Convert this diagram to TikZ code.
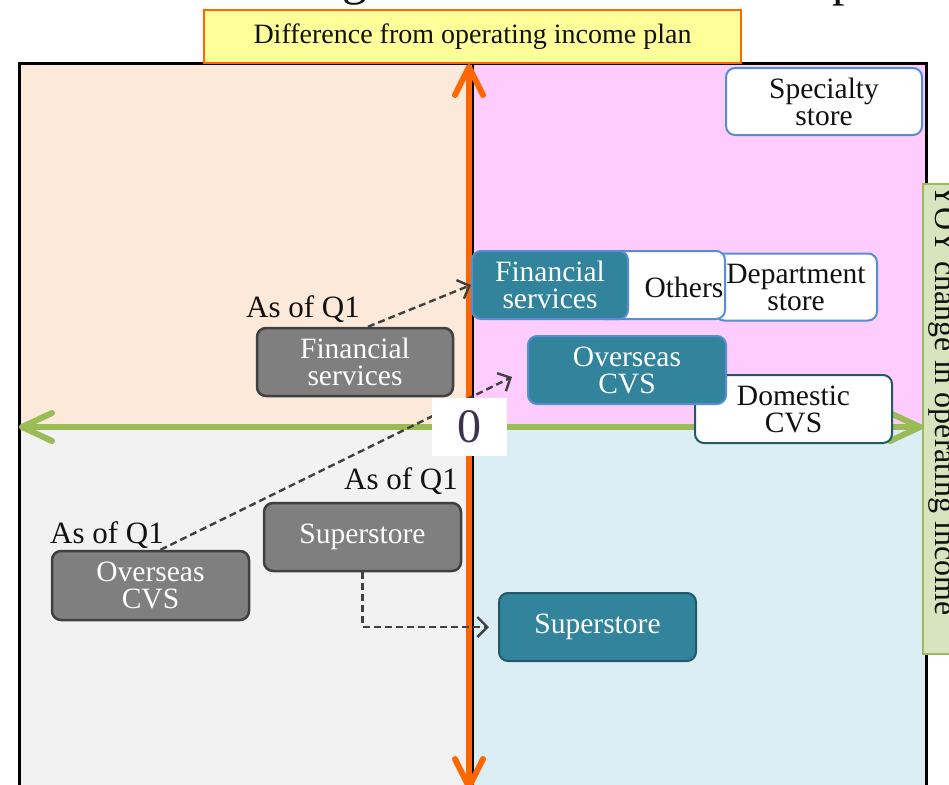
\documentclass[tikz,border=0pt]{standalone}
\usepackage{fontspec}
\setmainfont{Liberation Serif}
\usetikzlibrary{arrows.meta}
\definecolor{peachq}{HTML}{FDE9D9}
\definecolor{pinkq}{HTML}{FFCCFF}
\definecolor{grayq}{HTML}{F2F2F2}
\definecolor{blueq}{HTML}{DBEEF4}
\definecolor{orangeax}{HTML}{FF6600}
\definecolor{greenax}{HTML}{9BBB59}
\definecolor{tealfill}{HTML}{31849B}
\definecolor{lightborder}{HTML}{558ED5}
\definecolor{darkteal}{HTML}{215968}
\definecolor{grayfill}{HTML}{7F7F7F}
\definecolor{grayborder}{HTML}{404040}
\definecolor{txtc}{HTML}{111111}
\definecolor{zeroc}{HTML}{3F3151}
\definecolor{yellowfill}{HTML}{FFFF99}
\definecolor{rlabelfill}{HTML}{D7E4BD}
\begin{document}
\begin{tikzpicture}[x=1pt,y=-1pt,
  rbox/.style={rounded corners=9pt, line width=2pt, align=center, inner sep=0pt,
    font=\fontsize{29.5}{27}\selectfont},
  tealbox/.style={rbox, fill=tealfill, draw=lightborder, text=white},
  tealdark/.style={rbox, fill=tealfill, draw=darkteal, text=white},
  whitebox/.style={rbox, fill=white, draw=lightborder, text=txtc},
  whitedark/.style={rbox, fill=white, draw=darkteal, text=txtc},
  graybox/.style={rbox, fill=grayfill, draw=grayborder, line width=2.5pt, text=white},
  asof/.style={text=txtc, inner sep=0pt, font=\fontsize{31}{31}\selectfont},
  dasharrow/.style={draw=grayborder, line width=2.4pt, dash pattern=on 7pt off 4pt,
    -{Straight Barb[length=10pt,width=20pt]}},
  oaxis/.style={draw=orangeax, line width=6pt, line cap=round, line join=round},
  gaxis/.style={draw=greenax, line width=6pt, line cap=round, line join=round}]
\useasboundingbox (0,0) rectangle (949,784);
\begin{scope}
\clip (0,0) rectangle (949,784);
% title fragments
\node[anchor=base, inner sep=0pt, text=txtc, font=\fontsize{50}{50}\selectfont] (tg) at (355,-5) {g};
\node[anchor=base west, inner sep=0pt, text=txtc, font=\fontsize{50}{50}\selectfont] (tp) at (832,-4) {p};
% quadrants
\fill[peachq] (19,63) rectangle (473,430);
\fill[pinkq] (473,63) rectangle (926,430);
\fill[grayq] (19,430) rectangle (473,790);
\fill[blueq] (473,430) rectangle (926,790);
\draw[black, line width=1.5pt] (473,63) -- (473,790);
\draw[black, line width=3pt] (19,790) -- (19,63) -- (926,63) -- (926,790);
% axes
\draw[oaxis] (469,68) -- (469,790);
\draw[oaxis] (455,95) -- (469,67) -- (483,95);
\draw[oaxis] (455,759) -- (469,787) -- (483,759);
\draw[gaxis] (22,427) -- (920,427);
\draw[gaxis] (52,413) -- (22,427) -- (52,441);
\draw[gaxis] (890,413) -- (920,427) -- (890,441);
% labels
\node[fill=yellowfill, draw=orangeax, line width=2pt, minimum width=537pt, minimum height=53pt,
  inner sep=0pt, text=txtc, font=\fontsize{28}{28}\selectfont] (ylab) at (472.5,36.5)
  {Difference from operating income plan};
\node[fill=rlabelfill, draw=greenax, line width=2pt, minimum width=60pt, minimum height=470pt,
  inner sep=0pt] (rbox) at (953,419) {};
\node[rotate=-90, anchor=base, inner sep=0pt, text=txtc, font=\fontsize{32}{32}\selectfont]
  (rtext) at (935,400) {YOY change in operating income};
% gray (as of Q1) nodes
\node[graybox, minimum width=196pt, minimum height=68pt] (gfs) at (355,362) {Financial\\services};
\node[graybox, minimum width=197pt, minimum height=68pt] (gss) at (362.5,537) {Superstore};
\node[graybox, minimum width=197pt, minimum height=69pt] (gov) at (150.5,585.5) {Overseas\\CVS};
\node[asof] (q1a) at (303,309) {As of Q1};
\node[asof] (q1b) at (401,481) {As of Q1};
\node[asof] (q1c) at (107,535) {As of Q1};
% current nodes
\node[whitebox, minimum width=196pt, minimum height=67pt] (spec) at (824,101.5) {Specialty\\store};
\node[whitebox, minimum width=162pt, minimum height=67pt] (dept) at (796,287) {Department\\store};
\node[whitebox, minimum width=130pt, minimum height=68pt] (oth) at (660,285) {};
\node[text=txtc, inner sep=0pt, font=\fontsize{29.5}{27}\selectfont] (othtxt) at (684,287) {Others};
\node[tealbox, minimum width=156pt, minimum height=68pt] (tfs) at (550,285) {Financial\\services};
\node[whitedark, minimum width=197pt, minimum height=68pt] (dom) at (793.5,409) {Domestic\\CVS};
\node[tealbox, minimum width=198pt, minimum height=68pt] (tov) at (627,370) {Overseas\\CVS};
\node[tealdark, minimum width=197pt, minimum height=68pt] (tss) at (597.5,627) {Superstore};
% dashed arrows
\draw[dasharrow] ([xshift=13pt]gfs.north) -- (tfs.west);
\draw[dasharrow] ([xshift=10pt]gov.north) -- ([xshift=-15pt,yshift=-7pt]tov.west);
\draw[dasharrow] (gss.south) |- ([xshift=-9pt]tss.west);
% zero
\node[fill=white, minimum width=75pt, minimum height=58pt, inner sep=0pt, text=zeroc,
  font=\fontsize{48}{48}\selectfont] (zero) at (469.5,427) {0};
\end{scope}
\end{tikzpicture}
\end{document}
